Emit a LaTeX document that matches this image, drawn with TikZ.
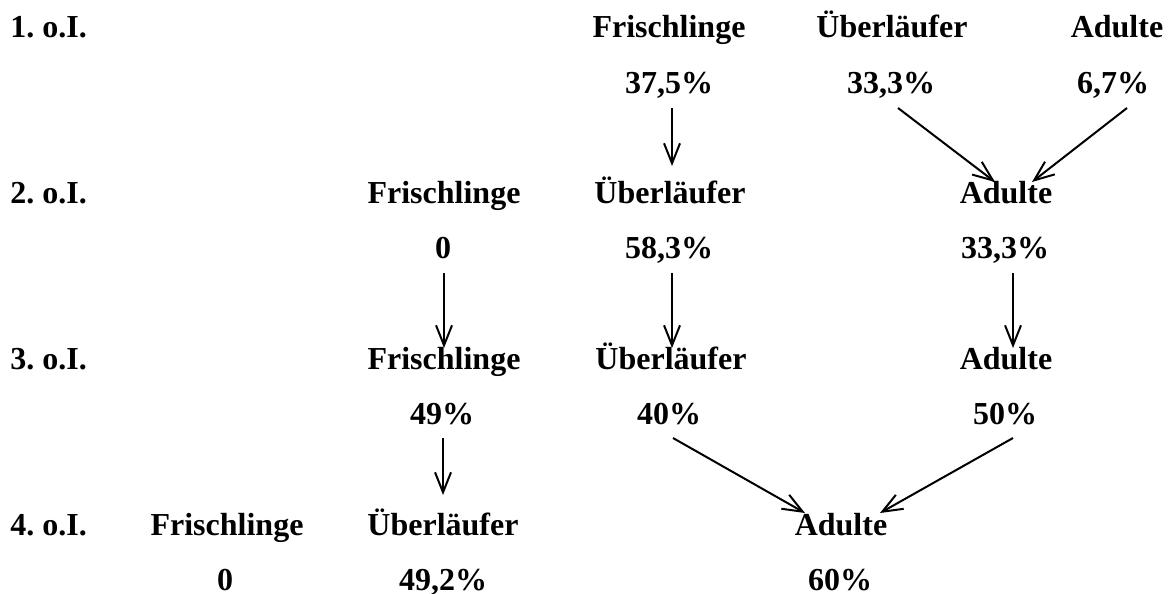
\documentclass[tikz,border=0pt]{standalone}
\usepackage{fontspec}
\setmainfont{Liberation Serif}
\usetikzlibrary{arrows.meta,calc}
\frenchspacing
\begin{document}
\begin{tikzpicture}[x=0.5pt,y=-0.5pt,
  lbl/.style={inner sep=0pt,anchor=base,font=\fontsize{16}{19}\selectfont\bfseries},
  rowlbl/.style={lbl,anchor=base west},
  flow/.style={line width=1pt,-{Straight Barb[length=10pt,width=8pt,line width=1pt]}}]
\useasboundingbox (0,0) rectangle (1173,594);
% row labels
\node[rowlbl] (r1) at (10,37) {1. o.I.};
\node[rowlbl] (r2) at (10,203) {2. o.I.};
\node[rowlbl] (r3) at (10,369) {3. o.I.};
\node[rowlbl] (r4) at (10,535) {4. o.I.};
% row 1
\node[lbl] (n1c) at (669,37) {Frischlinge};
\node[lbl] (n1d) at (892,37) {Überläufer};
\node[lbl] (n1f) at (1117,37) {Adulte};
\node[lbl] (v1c) at (669,93) {37,5\%};
\node[lbl] (v1d) at (891,93) {33,3\%};
\node[lbl] (v1f) at (1113,93) {6,7\%};
% row 2
\node[lbl] (n2b) at (444,203) {Frischlinge};
\node[lbl] (n2c) at (670,203) {Überläufer};
\node[lbl] (n2e) at (1006,203) {Adulte};
\node[lbl] (v2b) at (443,258) {0};
\node[lbl] (v2c) at (669,258) {58,3\%};
\node[lbl] (v2e) at (1005,258) {33,3\%};
% row 3
\node[lbl] (n3b) at (444,369) {Frischlinge};
\node[lbl] (n3c) at (671,369) {Überläufer};
\node[lbl] (n3e) at (1006,369) {Adulte};
\node[lbl] (v3b) at (442,424) {49\%};
\node[lbl] (v3c) at (669,424) {40\%};
\node[lbl] (v3e) at (1005,424) {50\%};
% row 4
\node[lbl] (n4a) at (227,535) {Frischlinge};
\node[lbl] (n4b) at (443,535) {Überläufer};
\node[lbl] (n4g) at (841,535) {Adulte};
\node[lbl] (v4a) at (225,590) {0};
\node[lbl] (v4b) at (443,590) {49,2\%};
\node[lbl] (v4g) at (840,590) {60\%};
% arrows
\draw[flow] ($(v1c.base)+(3,15)$) -- ($(n2c.base)+(2,-37)$);
\draw[flow] ($(v1d.base)+(7,15)$) -- ($(n2e.base)+(-11,-21)$);
\draw[flow] ($(v1f.base)+(14,15)$) -- ($(n2e.base)+(26,-21)$);
\draw[flow] ($(v2b.base)+(1,15)$) -- ($(n3b.base)+(0,-21)$);
\draw[flow] ($(v2c.base)+(3,15)$) -- ($(n3c.base)+(1,-21)$);
\draw[flow] ($(v2e.base)+(8,15)$) -- ($(n3e.base)+(7,-21)$);
\draw[flow] ($(v3b.base)+(1,14)$) -- ($(n4b.base)+(0,-40)$);
\draw[flow] ($(v3c.base)+(4,14)$) -- ($(n4g.base)+(-36,-22)$);
\draw[flow] ($(v3e.base)+(8,14)$) -- ($(n4g.base)+(39,-22)$);
\end{tikzpicture}
\end{document}
